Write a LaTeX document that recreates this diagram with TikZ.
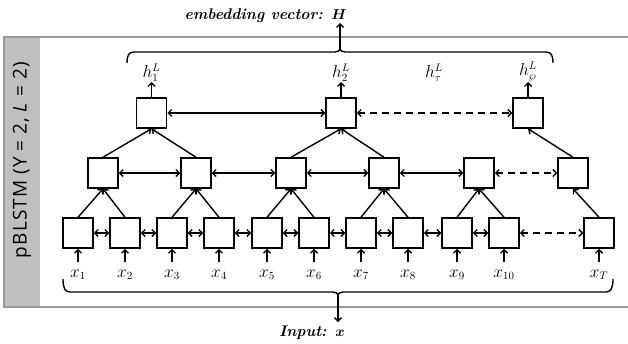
\documentclass[tikz,border=0pt]{standalone}
\usepackage{bm}
\usepackage{fontspec}
\newfontfamily\bandfont[LetterSpace=6]{Open Sans}
\usetikzlibrary{arrows.meta}

\definecolor{framegray}{gray}{0.6}
\definecolor{bandgray}{gray}{0.75}

\tikzset{
  cell/.style={draw, line width=1.5pt, minimum size=30pt, inner sep=0pt},
  link/.style={line width=1.4pt, -{Straight Barb[length=3.5pt,width=7pt]}},
  bilink/.style={line width=1.4pt, {Straight Barb[length=3.5pt,width=7pt]}-{Straight Barb[length=3.5pt,width=7pt]}},
  gap/.style={dash pattern=on 7pt off 5pt},
  inlabel/.style={font=\fontsize{16}{18}\selectfont, anchor=base, inner sep=0pt, inner ysep=7pt},
  outlabel/.style={font=\fontsize{16}{18}\selectfont, anchor=south, inner sep=0pt},
  caption/.style={font=\fontsize{15.5}{18}\selectfont\bfseries\itshape, inner sep=0pt},
  brace/.style={line width=1.4pt}
}

\begin{document}
\begin{tikzpicture}[x=1pt, y=-1pt]
  \useasboundingbox (0,0) rectangle (628,343);

  % side band and frame
  \fill[bandgray] (4,37) rectangle (40,307);
  \draw[framegray, line width=2pt] (632,37) -- (4,37) -- (4,307) -- (632,307);
  \node[rotate=90, font=\bandfont\fontsize{19}{21}\selectfont] (title) at (22,160)
    {pBLSTM (Υ\hspace{0.3em}=\hspace{0.3em}2, \textit{L}\hspace{0.3em}=\hspace{0.3em}2)};

  % input layer
  \foreach \i/\x in {1/78, 2/125, 3/172, 4/219, 5/267, 6/314, 7/361, 8/408, 9/457, 10/504}{
    \node[cell] (b\i) at (\x,233) {};
    \node[inlabel] (x\i) at (\x,277) {$x_{\i}$};
    \draw[link] (x\i.north) -- (b\i.south);
  }
  \node[cell] (bT) at (599,233) {};
  \node[inlabel] (xT) at (599,277) {$x_{T}$};
  \draw[link] (xT.north) -- (bT.south);

  % middle layer
  \foreach \i/\x in {1/103, 2/196, 3/291, 4/384, 5/479, 6/573}{
    \node[cell] (m\i) at (\x,173) {};
  }

  % top layer
  \node[cell] (t1) at (151.5,113) {};
  \node[cell] (t2) at (341,113) {};
  \node[cell] (t3) at (528,113) {};

  % outputs
  \node[outlabel] (h1) at (151.5,82) {$h^{L}_{1}$};
  \node[outlabel] (h2) at (341,82) {$h^{L}_{2}$};
  \node[outlabel] (htau) at (434,82) {$h^{L}_{\tau}$};
  \node[outlabel] (hwp) at (528,82) {$h^{L}_{\wp}$};
  \draw[link] (t1.north) -- (h1.south);
  \draw[link] (t2.north) -- (h2.south);
  \draw[link] (t3.north) -- (hwp.south);

  % recurrent links within each layer
  \foreach \a/\b in {1/2, 2/3, 3/4, 4/5, 5/6, 6/7, 7/8, 8/9, 9/10}{
    \draw[bilink] (b\a.east) -- (b\b.west);
  }
  \draw[bilink, gap] (b10.east) -- (bT.west);
  \foreach \a/\b in {1/2, 2/3, 3/4, 4/5}{
    \draw[bilink] (m\a.east) -- (m\b.west);
  }
  \draw[bilink, gap] (m5.east) -- (m6.west);
  \draw[bilink] (t1.east) -- (t2.west);
  \draw[bilink, gap] (t2.east) -- (t3.west);

  % pyramid reduction
  \foreach \s/\d in {b1/m1, b2/m1, b3/m2, b4/m2, b5/m3, b6/m3, b7/m4, b8/m4, b9/m5, b10/m5, bT/m6,
                     m1/t1, m2/t1, m3/t2, m4/t2, m6/t3}{
    \draw[link] (\s.north) -- (\d.south);
  }

  % upper brace and embedding output
  \draw[brace] (127,63) .. controls (127,55) and (129,52) .. (134,52) -- (335,52)
    .. controls (338,52) and (340,51) .. (340,47)
    .. controls (340,51) and (342,52) .. (345,52) -- (546,52)
    .. controls (551,52) and (553,55) .. (553,63);
  \coordinate (topcusp) at (340,48);
  \coordinate (Hend) at (340,23);
  \draw[link] (topcusp) -- (Hend);
  \node[caption, anchor=base east] (emb) at (347,19) {embedding vector: $\bm{H}$};

  % lower brace and input
  \draw[brace] (63,279) .. controls (63,288) and (65,292) .. (70,292) -- (333,292)
    .. controls (336,292) and (338,293) .. (338,297)
    .. controls (338,293) and (340,292) .. (343,292) -- (606,292)
    .. controls (611,292) and (613,288) .. (613,279);
  \coordinate (botcusp) at (338,296);
  \coordinate (xend) at (338,322);
  \draw[link] (botcusp) -- (xend);
  \node[caption, anchor=base east] (inp) at (345,336) {Input: $\bm{x}$};
\end{tikzpicture}
\end{document}
